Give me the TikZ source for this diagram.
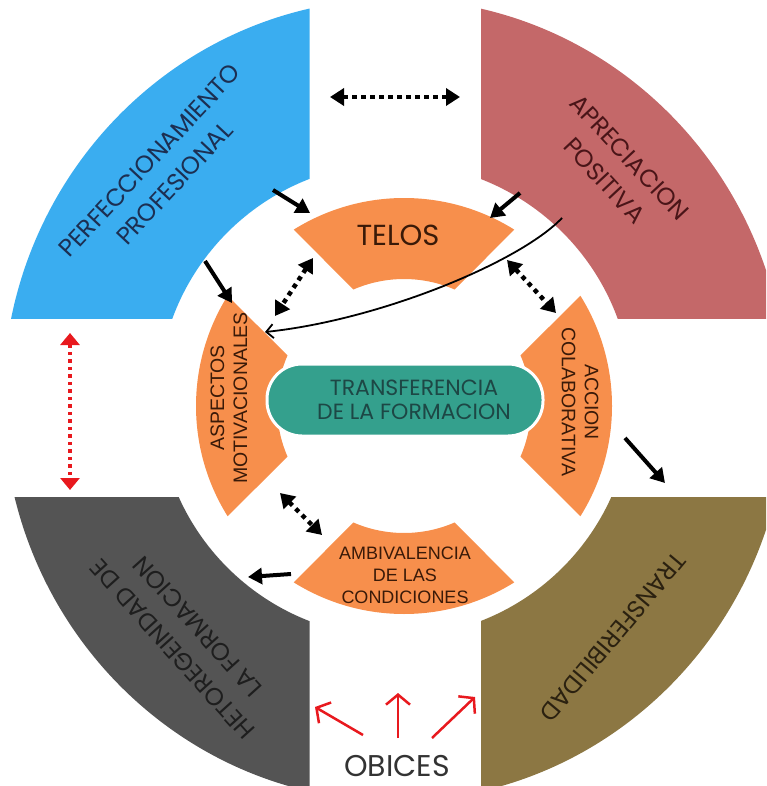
\documentclass[tikz,border=0pt]{standalone}
\usepackage{fontspec}
\setmainfont{Poppins}
\newfontfamily\arialfont{Liberation Sans}
\usetikzlibrary{arrows.meta}

\definecolor{quadblue}{HTML}{3AADF0}
\definecolor{quadred}{HTML}{C46869}
\definecolor{quadgray}{HTML}{545454}
\definecolor{quadbrown}{HTML}{8C7743}
\definecolor{segorange}{HTML}{F78F4C}
\definecolor{pillteal}{HTML}{34A08D}
\definecolor{obred}{HTML}{E8191E}
\definecolor{bluetext}{HTML}{1C2F52}
\definecolor{redtext}{HTML}{4A1518}
\definecolor{graytext}{HTML}{1E1E1E}
\definecolor{browntext}{HTML}{2B2110}
\definecolor{segtextc}{HTML}{3A1A08}
\definecolor{pilltextc}{HTML}{1D4745}

% one orange piece of the inner ring, #1 = middle angle
\def\ringseg#1{\fill[segorange] (#1-32:208) arc[start angle=#1-32, end angle=#1+32, radius=208] -- (#1+23.5:127) arc[start angle=#1+23.5, end angle=#1-23.5, radius=127] -- cycle;}

\tikzset{
	quadtext/.style={font=\fontsize{24.5}{34}\selectfont, align=center, inner sep=0pt},
	segtext/.style={font=\arialfont\fontsize{19.5}{23}\selectfont, align=center, inner sep=0pt, text=segtextc},
	solidarrow/.style={-{Triangle[length=14pt,width=16pt]}, line width=4pt},
	dotarrow/.style={{Triangle[length=14pt,width=17pt]}-{Triangle[length=14pt,width=17pt]}, line width=4.5pt, dash pattern=on 4.5pt off 4.5pt},
	reddots/.style={{Triangle[length=12pt,width=19pt]}-{Triangle[length=12pt,width=19pt]}, obred, line width=3.5pt, dash pattern=on 3.5pt off 4pt},
	redarrow/.style={-{Straight Barb[length=10pt,width=24pt]}, obred, line width=2.5pt},
	pill/.style={fill=pillteal, draw=white, line width=3pt, rounded corners=35pt, minimum width=276pt, minimum height=72pt, inner sep=0pt}
}

\begin{document}
\begin{tikzpicture}[x=1pt,y=1pt]
		%%%%% START %%%%%
		\useasboundingbox (0,0) rectangle (766,-786);
		\clip (0,0) rectangle (766,-786);
		
		% outer quadrants
		\begin{scope}
			\clip (0,0) rectangle (309.5,-318);
			\fill[quadblue, even odd rule] (395,-400) ellipse[x radius=392, y radius=401] (395,-400) circle[radius=237];
		\end{scope}
		\begin{scope}
			\clip (481,0) rectangle (766,-318);
			\fill[quadred, even odd rule] (395,-400) ellipse[x radius=392, y radius=401] (395,-400) circle[radius=237];
		\end{scope}
		\begin{scope}
			\clip (0,-497) rectangle (309.5,-786);
			\fill[quadgray, even odd rule] (395,-400) ellipse[x radius=392, y radius=401] (395,-400) circle[radius=237];
		\end{scope}
		\begin{scope}
			\clip (481,-497) rectangle (766,-786);
			\fill[quadbrown, even odd rule] (395,-400) ellipse[x radius=392, y radius=401] (395,-400) circle[radius=237];
		\end{scope}
		
		\node[quadtext, text=bluetext, rotate=47] (perf) at (162,-172) {PERFECCIONAMIENTO\\PROFESIONAL};
		\node[quadtext, text=redtext, rotate=-47] (aprec) at (617,-169) {APRECIACION\\POSITIVA};
		\node[quadtext, text=graytext, rotate=132] (hetero) at (185,-638) {HETOREGEINDAD DE\\LA FORMACION};
		\node[quadtext, text=browntext, rotate=-130] (transfer) at (613,-637) {TRANSFERIBILIDAD};
		
		% inner ring
		\begin{scope}[shift={(404,-406)}]
			\ringseg{90}
			\ringseg{180}
			\ringseg{270}
			\ringseg{0}
		\end{scope}
		
		\node[font=\fontsize{29}{32}\selectfont, text=segtextc, inner sep=0pt] (telos) at (398,-235) {TELOS};
		\node[segtext, rotate=90] (aspect) at (229,-398) {ASPECTOS\\MOTIVACIONALES};
		\node[segtext, rotate=-90] (accion) at (580,-402) {ACCION\\COLABORATIVA};
		\node[segtext, font=\arialfont\fontsize{18}{22}\selectfont] (ambiv) at (405,-575) {AMBIVALENCIA\\DE LAS\\CONDICIONES};
		
		\node[pill] (transf) at (405,-400) {};
		\node[font=\fontsize{22}{24}\selectfont, text=pilltextc, align=center, inner sep=0pt] (transftext) at (414,-400) {TRANSFERENCIA\\DE LA FORMACION};
		
		\node[font=\fontsize{30}{32}\selectfont, text=black!80, inner sep=0pt] (obices) at (397,-766) {OBICES};
		
		% arrow ends
		\coordinate (topL) at (330,-97);
		\coordinate (topR) at (460,-97);
		\coordinate (redT) at (70,-333);
		\coordinate (redB) at (70,-490);
		\coordinate (perfA) at (273,-190);
		\coordinate (telosA) at (310,-213);
		\coordinate (perfB) at (205,-261);
		\coordinate (aspectA) at (232,-303);
		\coordinate (aprecA) at (520,-193);
		\coordinate (telosB) at (490,-218);
		\coordinate (aprecB) at (562,-218);
		\coordinate (aspectB) at (265,-332);
		\coordinate (telosC) at (313,-258);
		\coordinate (aspectC) at (275,-316);
		\coordinate (telosD) at (507,-260);
		\coordinate (accionA) at (556,-313);
		\coordinate (aspectD) at (280,-493);
		\coordinate (ambivA) at (322,-535);
		\coordinate (ambivB) at (291,-574);
		\coordinate (heteroA) at (248,-577);
		\coordinate (accionB) at (625,-438);
		\coordinate (transferA) at (665,-483);
		\coordinate (obL) at (363,-735);
		\coordinate (obLt) at (315,-707);
		\coordinate (obM) at (398,-738);
		\coordinate (obMt) at (398,-693);
		\coordinate (obR) at (432,-738);
		\coordinate (obRt) at (475,-697);
		
		\draw[dotarrow] (topL) -- (topR);
		\draw[reddots] (redT) -- (redB);
		
		\draw[solidarrow] (perfA) -- (telosA);
		\draw[solidarrow] (perfB) -- (aspectA);
		\draw[solidarrow] (aprecA) -- (telosB);
		\draw[solidarrow] (ambivB) -- (heteroA);
		\draw[solidarrow] (accionB) -- (transferA);
		
		\draw[line width=1.8pt, -{Straight Barb[length=7pt,width=14pt]}] (aprecB) .. controls (520,-262) and (380,-320) .. (aspectB);
		
		\draw[dotarrow] (telosC) -- (aspectC);
		\draw[dotarrow] (telosD) -- (accionA);
		\draw[dotarrow] (aspectD) -- (ambivA);
		
		\draw[redarrow] (obL) -- (obLt);
		\draw[redarrow] (obM) -- (obMt);
		\draw[redarrow] (obR) -- (obRt);
		
		%%%%% END %%%%%
\end{tikzpicture}
\end{document}
